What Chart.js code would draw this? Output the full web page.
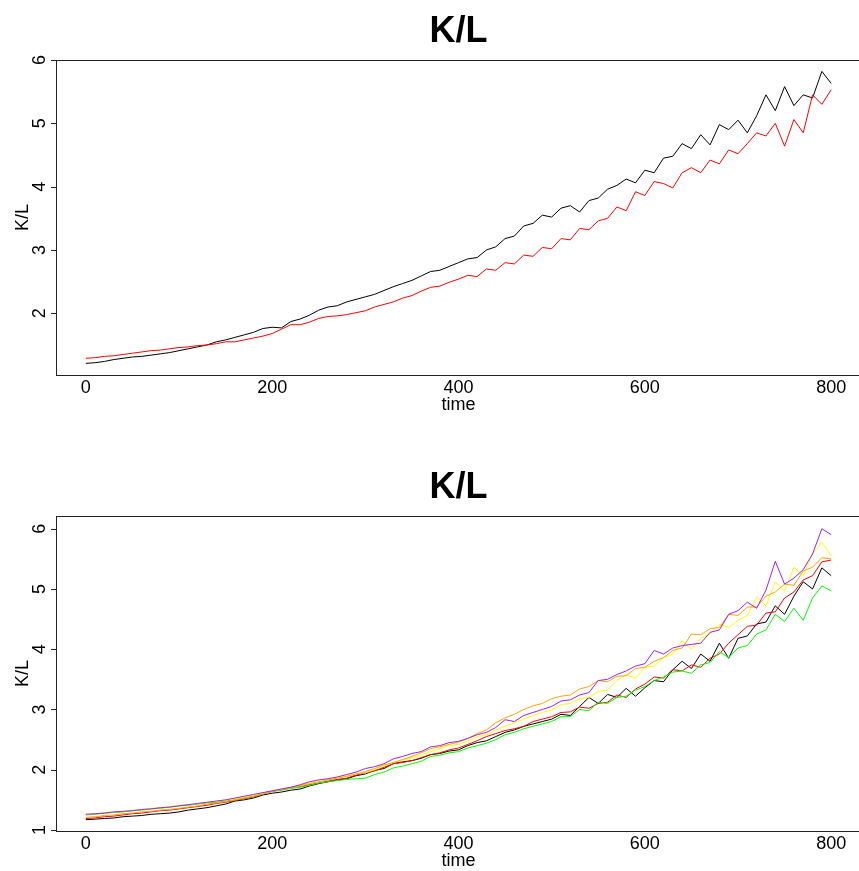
<!DOCTYPE html>
<html>
<head>
<meta charset="utf-8">
<script src="https://cdn.jsdelivr.net/npm/chart.js@4.4.1/dist/chart.umd.min.js"></script>
<style>
  html, body { margin: 0; padding: 0; background: #fff; overflow: hidden; }
  canvas { display: block; }
</style>
</head>
<body>
<canvas id="topChart" width="864" height="456"></canvas>
<canvas id="bottomChart" width="864" height="456"></canvas>
<script>
// sample times (every 10 steps)
var times = [0,10,20,30,40,50,60,70,80,90,100,110,120,130,140,150,160,170,180,190,200,
    210,220,230,240,250,260,270,280,290,300,310,320,330,340,350,360,370,380,390,400,
    410,420,430,440,450,460,470,480,490,500,510,520,530,540,550,560,570,580,590,600,
    610,620,630,640,650,660,670,680,690,700,710,720,730,740,750,760,770,780,790,800];

var xTicks = [0, 200, 400, 600, 800];
var yTicksTop = [2, 3, 4, 5, 6];
var yTicksBottom = [1, 2, 3, 4, 5, 6];

// top panel
var topBlack = [1.21,1.22,1.24,1.27,1.29,1.31,1.32,1.34,1.36,1.38,1.41,
    1.44,1.47,1.50,1.55,1.58,1.62,1.66,1.70,1.76,1.78,
    1.77,1.87,1.91,1.97,2.05,2.10,2.12,2.18,2.22,2.26,
    2.30,2.36,2.42,2.47,2.52,2.59,2.66,2.68,2.74,2.80,
    2.86,2.88,3.00,3.05,3.18,3.22,3.38,3.42,3.55,3.52,
    3.66,3.70,3.60,3.78,3.82,3.96,4.02,4.12,4.06,4.26,
    4.22,4.45,4.48,4.68,4.60,4.82,4.66,4.98,4.90,5.05,
    4.85,5.12,5.45,5.20,5.58,5.28,5.45,5.40,5.82,5.63];
var topRed = [1.29,1.30,1.32,1.33,1.35,1.37,1.39,1.41,1.42,1.44,1.46,
    1.47,1.49,1.50,1.52,1.55,1.55,1.58,1.61,1.64,1.68,
    1.75,1.82,1.82,1.86,1.92,1.95,1.96,1.98,2.01,2.04,
    2.10,2.14,2.18,2.24,2.28,2.35,2.41,2.43,2.49,2.54,
    2.60,2.58,2.70,2.68,2.80,2.78,2.92,2.90,3.04,3.02,
    3.18,3.16,3.34,3.32,3.46,3.50,3.68,3.62,3.92,3.86,
    4.08,4.05,3.98,4.22,4.30,4.22,4.42,4.36,4.58,4.52,
    4.68,4.85,4.80,5.00,4.64,5.06,4.85,5.45,5.30,5.53];

// bottom panel
var botBlack = [1.17,1.18,1.19,1.20,1.22,1.23,1.24,1.26,1.27,1.28,1.30,
    1.33,1.35,1.37,1.40,1.43,1.48,1.50,1.53,1.58,1.61,
    1.63,1.66,1.68,1.73,1.77,1.80,1.83,1.85,1.90,1.93,
    1.99,2.02,2.10,2.13,2.15,2.19,2.25,2.27,2.31,2.33,
    2.40,2.45,2.48,2.55,2.62,2.66,2.72,2.76,2.80,2.84,
    2.92,2.90,3.05,3.20,3.10,3.25,3.20,3.35,3.22,3.36,
    3.48,3.46,3.66,3.80,3.68,3.92,3.80,4.10,3.85,4.18,
    4.22,4.42,4.45,4.72,4.58,4.88,5.12,5.00,5.35,5.22];
var botRed = [1.19,1.20,1.22,1.23,1.25,1.27,1.28,1.30,1.32,1.33,1.35,
    1.37,1.39,1.41,1.44,1.46,1.49,1.52,1.55,1.60,1.64,
    1.67,1.70,1.72,1.75,1.78,1.81,1.84,1.86,1.91,1.95,
    1.98,2.04,2.10,2.12,2.15,2.20,2.25,2.28,2.33,2.36,
    2.42,2.48,2.55,2.60,2.65,2.68,2.72,2.80,2.84,2.88,
    2.95,2.96,3.04,3.02,3.10,3.12,3.24,3.20,3.34,3.42,
    3.54,3.52,3.66,3.64,3.74,3.70,3.85,3.92,4.10,4.24,
    4.38,4.40,4.60,4.62,4.85,4.95,5.15,5.22,5.45,5.48];
var botGreen = [1.25,1.26,1.28,1.29,1.30,1.32,1.33,1.35,1.36,1.38,1.40,
    1.41,1.43,1.45,1.46,1.48,1.50,1.53,1.56,1.60,1.64,
    1.66,1.69,1.71,1.74,1.78,1.80,1.82,1.84,1.85,1.86,
    1.92,1.96,2.03,2.06,2.10,2.14,2.22,2.24,2.28,2.30,
    2.36,2.40,2.44,2.50,2.58,2.62,2.68,2.72,2.76,2.80,
    2.88,2.88,3.00,2.98,3.12,3.10,3.20,3.22,3.32,3.38,
    3.48,3.54,3.62,3.64,3.60,3.74,3.78,3.96,3.86,4.02,
    4.06,4.25,4.32,4.58,4.46,4.68,4.48,4.85,5.05,4.97];
var botYellow = [1.26,1.27,1.29,1.30,1.31,1.33,1.34,1.36,1.37,1.39,1.41,
    1.42,1.44,1.46,1.48,1.50,1.52,1.55,1.58,1.61,1.65,
    1.68,1.71,1.74,1.78,1.84,1.85,1.88,1.90,1.93,1.95,
    2.00,2.06,2.12,2.16,2.20,2.24,2.30,2.35,2.40,2.42,
    2.48,2.55,2.58,2.66,2.72,2.78,2.84,2.90,2.95,2.99,
    3.08,3.10,3.18,3.20,3.30,3.32,3.48,3.58,3.52,3.70,
    3.72,3.86,3.92,4.14,4.00,4.18,4.25,4.42,4.36,4.48,
    4.56,4.86,4.72,5.12,4.96,5.36,5.22,5.58,5.78,5.55];
var botOrange = [1.21,1.22,1.24,1.25,1.27,1.28,1.30,1.31,1.33,1.34,1.36,
    1.38,1.40,1.43,1.45,1.47,1.50,1.53,1.56,1.60,1.64,
    1.67,1.70,1.73,1.77,1.80,1.83,1.86,1.89,1.93,1.97,
    2.02,2.08,2.12,2.17,2.22,2.28,2.35,2.38,2.42,2.46,
    2.52,2.60,2.66,2.78,2.86,2.92,3.00,3.06,3.10,3.18,
    3.22,3.24,3.34,3.38,3.48,3.46,3.55,3.56,3.68,3.70,
    3.80,3.86,3.98,4.02,4.25,4.24,4.34,4.36,4.58,4.56,
    4.70,4.70,4.88,4.95,5.08,5.06,5.30,5.36,5.52,5.50];
var botPurple = [1.26,1.27,1.28,1.30,1.31,1.32,1.34,1.35,1.37,1.38,1.40,
    1.42,1.44,1.46,1.48,1.50,1.53,1.56,1.59,1.62,1.65,
    1.68,1.71,1.75,1.80,1.83,1.85,1.88,1.92,1.96,2.02,
    2.05,2.10,2.18,2.22,2.27,2.30,2.38,2.40,2.45,2.47,
    2.52,2.58,2.62,2.70,2.83,2.80,2.90,2.95,3.00,3.05,
    3.14,3.16,3.24,3.28,3.48,3.50,3.58,3.64,3.72,3.76,
    3.98,3.92,4.02,4.06,4.08,4.10,4.28,4.32,4.58,4.64,
    4.78,4.68,4.98,5.46,5.08,5.18,5.32,5.58,6.00,5.90];

var FONT = '"Liberation Sans", Arial, Helvetica, sans-serif';

// draws the R-like frame, ticks, labels and title
const rPlot = {
    id: 'rPlot',
    afterDraw(chart, args, opts) {
        const ctx = chart.ctx;
        const a = chart.chartArea;
        const xs = chart.scales.x;
        const ys = chart.scales.y;
        ctx.save();
        ctx.strokeStyle = '#222';
        ctx.lineWidth = 1;
        ctx.strokeRect(Math.round(a.left) + 0.5, Math.round(a.top) + 0.5,
            Math.round(a.right - a.left), Math.round(a.bottom - a.top));

        ctx.fillStyle = '#000';
        ctx.font = '18px ' + FONT;
        opts.yTicks.forEach(v => {
            const py = ys.getPixelForValue(v);
            const y = Math.round(py) + 0.5;
            ctx.beginPath();
            ctx.moveTo(a.left - 5, y);
            ctx.lineTo(a.left, y);
            ctx.stroke();
            ctx.save();
            ctx.translate(a.left - 11, py);
            ctx.rotate(-Math.PI / 2);
            ctx.textAlign = 'center';
            ctx.textBaseline = 'alphabetic';
            ctx.fillText(String(v), 0, 0);
            ctx.restore();
        });

        ctx.textAlign = 'center';
        ctx.textBaseline = 'alphabetic';
        opts.xTicks.forEach(t => {
            ctx.fillText(String(t), xs.getPixelForValue(t), a.bottom + 18);
        });

        const cx = (a.left + a.right) / 2;
        ctx.fillText('time', cx, a.bottom + 35);

        ctx.save();
        ctx.translate(28, (a.top + a.bottom) / 2);
        ctx.rotate(-Math.PI / 2);
        ctx.fillText('K/L', 0, 0);
        ctx.restore();

        ctx.font = 'bold 36px ' + FONT;
        ctx.fillText(opts.title, cx, 42);
        ctx.restore();
    }
};

function makeSeries(values, color, order) {
    return {
        data: times.map((t, i) => ({ x: t, y: values[i] })),
        borderColor: color,
        borderWidth: 1,
        pointRadius: 0,
        tension: 0,
        fill: false,
        order: order
    };
}

function makeChart(canvasId, datasets, yMin, yMax, yTicks) {
    const ctx = document.getElementById(canvasId).getContext('2d');
    return new Chart(ctx, {
        type: 'line',
        data: { datasets: datasets },
        options: {
            responsive: false,
            animation: false,
            devicePixelRatio: 1,
            layout: { padding: { left: 0, top: 60, right: 3, bottom: 0 } },
            scales: {
                x: {
                    type: 'linear', min: -32, max: 832,
                    ticks: { display: false },
                    grid: { display: false },
                    border: { display: false },
                    afterFit: (s) => { s.height = 81; }
                },
                y: {
                    type: 'linear', min: yMin, max: yMax,
                    ticks: { display: false },
                    grid: { display: false },
                    border: { display: false },
                    afterFit: (s) => { s.width = 56; }
                }
            },
            plugins: {
                legend: { display: false },
                tooltip: { enabled: false },
                rPlot: { title: 'K/L', xTicks: xTicks, yTicks: yTicks }
            }
        },
        plugins: [rPlot]
    });
}

makeChart('topChart', [
    makeSeries(topBlack, '#000000', 2),
    makeSeries(topRed, '#ff0000', 1)
], 1.026, 6.0, yTicksTop);

makeChart('bottomChart', [
    makeSeries(botBlack, '#000000', 6),
    makeSeries(botRed, '#ff0000', 5),
    makeSeries(botGreen, '#00ff00', 4),
    makeSeries(botYellow, '#ffff00', 3),
    makeSeries(botOrange, '#ffa500', 2),
    makeSeries(botPurple, '#a020f0', 1)
], 0.983, 6.211, yTicksBottom);
</script>
</body>
</html>
